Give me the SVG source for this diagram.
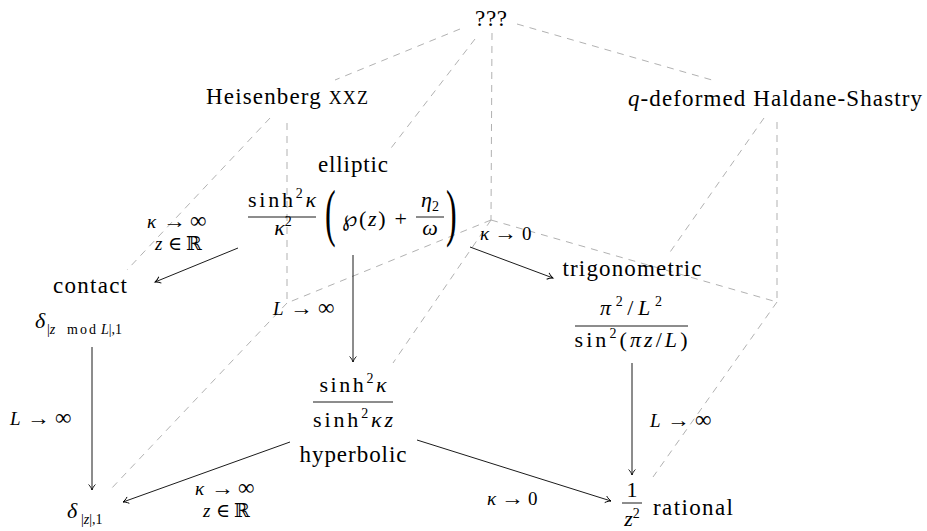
<svg xmlns="http://www.w3.org/2000/svg" width="927" height="531" viewBox="0 0 927 531">
<style>
.t{font-family:"Liberation Serif","DejaVu Serif","DejaVu Sans",serif;font-size:23px;fill:#000}
.f{font-family:"Liberation Serif","DejaVu Serif","DejaVu Sans",serif;font-size:22px;fill:#000}
.m{font-family:"Liberation Serif","DejaVu Serif","DejaVu Sans",serif;font-size:19px;fill:#000}
.big{font-family:"Liberation Serif","DejaVu Serif",serif;font-size:64px;fill:#000}
.ar{font-family:"Liberation Serif","DejaVu Serif",serif;font-size:20px;fill:#000}
.inf{font-size:23px}
.s{font-size:14px}
.i{font-style:italic}
.dash{stroke:#a8a8a8;stroke-width:0.9;stroke-dasharray:7 6;fill:none}
.arr{stroke:#000;stroke-width:0.9;fill:none;marker-end:url(#to)}
.bar{stroke:#000;stroke-width:0.9}
</style>
<defs>
<marker id="to" markerUnits="userSpaceOnUse" orient="auto" refX="0" refY="0" markerWidth="12" markerHeight="12" viewBox="-8 -6 10 12" overflow="visible">
<path d="M-5.5,-3.4 C-3.8,-1.6 -1.2,-0.4 0,0 C-1.2,0.4 -3.8,1.6 -5.5,3.4" stroke="#000" stroke-width="0.9" fill="none"/>
</marker>
</defs>
<rect width="927" height="531" fill="#fff"/>
<g id="connectors">
<line class="dash" x1="460" y1="29" x2="335" y2="80"/>
<line class="dash" x1="475" y1="39" x2="388" y2="152"/>
<line class="dash" x1="492" y1="33" x2="491" y2="220"/>
<line class="dash" x1="517" y1="24" x2="712" y2="80"/>
<line class="dash" x1="270" y1="118" x2="127" y2="270"/>
<line class="dash" x1="287" y1="123" x2="287" y2="303"/>
<line class="dash" x1="491" y1="220" x2="287" y2="303"/>
<line class="dash" x1="287" y1="303" x2="110" y2="490"/>
<line class="dash" x1="491" y1="220" x2="393" y2="363"/>
<line class="dash" x1="764" y1="118" x2="668" y2="255"/>
<line class="dash" x1="777" y1="122" x2="777" y2="302"/>
<line class="dash" x1="491" y1="220" x2="777" y2="302"/>
<line class="dash" x1="777" y1="302" x2="653" y2="477"/>
<line class="arr" x1="238" y1="248" x2="155" y2="282"/>
<line class="arr" x1="353" y1="255" x2="353" y2="362"/>
<line class="arr" x1="470" y1="247" x2="553" y2="278"/>
<line class="arr" x1="92" y1="347" x2="92" y2="490"/>
<line class="arr" x1="290" y1="442" x2="123" y2="502"/>
<line class="arr" x1="417" y1="440" x2="611" y2="501"/>
<line class="arr" x1="632" y1="363" x2="632" y2="475"/>
<g id="label-1">
<text class="m" y="228"><tspan class="i" x="147">κ</tspan><tspan class="inf" x="190">∞</tspan></text>
<text class="ar" x="163" y="228" textLength="23" lengthAdjust="spacingAndGlyphs">→</text>
<text class="m" y="250"><tspan class="i" x="155">z</tspan><tspan x="168">∈</tspan><tspan x="186">ℝ</tspan></text>
</g>
<g id="label-2">
<text class="m" y="315"><tspan class="i" x="273">L</tspan><tspan class="inf" x="318">∞</tspan></text>
<text class="ar" x="290" y="315" textLength="23" lengthAdjust="spacingAndGlyphs">→</text>
</g>
<g id="label-3">
<text class="m" y="240"><tspan class="i" x="480">κ</tspan><tspan x="522">0</tspan></text>
<text class="ar" x="494" y="240" textLength="23" lengthAdjust="spacingAndGlyphs">→</text>
</g>
<g id="label-4">
<text class="m" y="425"><tspan class="i" x="10">L</tspan><tspan class="inf" x="55">∞</tspan></text>
<text class="ar" x="27" y="425" textLength="23" lengthAdjust="spacingAndGlyphs">→</text>
</g>
<g id="label-5">
<text class="m" y="495"><tspan class="i" x="195">κ</tspan><tspan class="inf" x="238">∞</tspan></text>
<text class="ar" x="211" y="495" textLength="23" lengthAdjust="spacingAndGlyphs">→</text>
<text class="m" y="517"><tspan class="i" x="203">z</tspan><tspan x="216">∈</tspan><tspan x="234">ℝ</tspan></text>
</g>
<g id="label-6">
<text class="m" y="427"><tspan class="i" x="650">L</tspan><tspan class="inf" x="695">∞</tspan></text>
<text class="ar" x="667" y="427" textLength="23" lengthAdjust="spacingAndGlyphs">→</text>
</g>
<g id="label-7">
<text class="m" y="505"><tspan class="i" x="487">κ</tspan><tspan x="528">0</tspan></text>
<text class="ar" x="501" y="505" textLength="23" lengthAdjust="spacingAndGlyphs">→</text>
</g>
</g>
<g id="n-unknown">
<text class="t" x="491" y="26" text-anchor="middle" textLength="32">???</text>
</g>
<g id="n-heisenberg">
<text class="t" x="287" y="104" text-anchor="middle" textLength="162">Heisenberg <tspan font-size="18">XXZ</tspan></text>
</g>
<g id="n-qhs">
<text class="t" x="775" y="106" text-anchor="middle" textLength="294"><tspan class="i">q</tspan>-deformed Haldane-Shastry</text>
</g>
<g id="n-elliptic">
<text class="t" x="353" y="172" text-anchor="middle" textLength="70">elliptic</text>
<text class="f" x="282" y="207" text-anchor="middle" textLength="68">sinh<tspan class="s" dy="-9">2</tspan><tspan class="i" dy="9">κ</tspan></text>
<line class="bar" x1="248" y1="217" x2="316" y2="217"/>
<text class="f" x="283" y="235" text-anchor="middle"><tspan class="i">κ</tspan><tspan class="s" dy="-9">2</tspan></text>
<text class="big" transform="translate(325,234) scale(0.5,1)">(</text>
<text class="f" x="342" y="226" textLength="65">℘(<tspan class="i">z</tspan>) +</text>
<text class="f" x="430" y="207" text-anchor="middle"><tspan class="i">η</tspan><tspan class="s" dy="4">2</tspan></text>
<line class="bar" x1="416" y1="217" x2="444" y2="217"/>
<text class="f i" x="430" y="235" text-anchor="middle">ω</text>
<text class="big" transform="translate(446,234) scale(0.5,1)">)</text>
</g>
<g id="n-contact">
<text class="t" x="90" y="293" text-anchor="middle" textLength="74">contact</text>
<text class="f i" x="35" y="328">δ</text>
<text class="f s" x="47" y="334">|<tspan class="i">z</tspan></text>
<text class="f s" x="67" y="334" textLength="29">mod</text>
<text class="f s" x="101" y="334"><tspan class="i">L</tspan>|,1</text>
</g>
<g id="n-trig">
<text class="t" x="632" y="276" text-anchor="middle" textLength="139">trigonometric</text>
<text class="f" x="631" y="315" text-anchor="middle" textLength="62"><tspan class="i">π</tspan><tspan class="s" dy="-9">2</tspan><tspan dy="9">/</tspan><tspan class="i">L</tspan><tspan class="s" dy="-9">2</tspan></text>
<line class="bar" x1="575" y1="326" x2="688" y2="326"/>
<text class="f" x="631" y="347" text-anchor="middle" textLength="113">sin<tspan class="s" dy="-9">2</tspan><tspan dy="9">(</tspan><tspan class="i">πz</tspan>/<tspan class="i">L</tspan>)</text>
</g>
<g id="n-hyperbolic">
<text class="f" x="353" y="392" text-anchor="middle" textLength="67">sinh<tspan class="s" dy="-9">2</tspan><tspan class="i" dy="9">κ</tspan></text>
<line class="bar" x1="313" y1="402" x2="393" y2="402"/>
<text class="f" x="353" y="427" text-anchor="middle" textLength="80">sinh<tspan class="s" dy="-9">2</tspan><tspan class="i" dy="9">κz</tspan></text>
<text class="t" x="353" y="462" text-anchor="middle" textLength="107">hyperbolic</text>
</g>
<g id="n-delta">
<text class="f i" x="67" y="518">δ</text>
<text class="f s" x="81" y="524">|<tspan class="i">z</tspan>|,1</text>
</g>
<g id="n-rational">
<text class="f" x="632" y="497" text-anchor="middle">1</text>
<line class="bar" x1="622" y1="503" x2="642" y2="503"/>
<text class="f" x="632" y="526" text-anchor="middle"><tspan class="i">z</tspan><tspan class="s" dy="-8">2</tspan></text>
<text class="t" x="653" y="515" textLength="80">rational</text>
</g>
</svg>
